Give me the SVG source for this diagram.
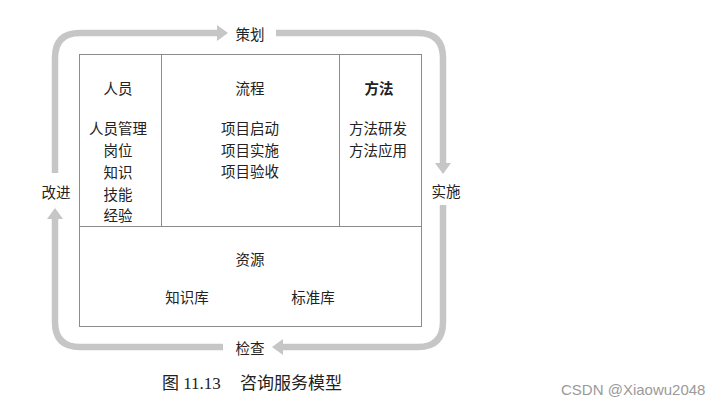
<svg xmlns="http://www.w3.org/2000/svg" width="725" height="405" viewBox="0 0 725 405">
<style>
.t{font-family:"Noto Sans CJK SC","Noto Sans",sans-serif;font-size:14.5px;fill:#222;text-anchor:middle;dominant-baseline:central}
.b{font-weight:bold}
.box{fill:none;stroke:#8c8c8c;stroke-width:1}
.band{fill:none;stroke:#c6c6c6;stroke-width:6.5}
.head{fill:#c6c6c6}
.cap{font-family:"Liberation Serif","Noto Sans CJK SC",serif;font-size:17px;fill:#222;dominant-baseline:central}
.wm{font-family:"Liberation Sans",Arial,sans-serif;font-size:15px;fill:#9a9a9a;dominant-baseline:central}
</style>
<rect width="725" height="405" fill="#fff"/>
<g id="connectors">
<path class="band" d="M55,173 V58 Q55,33 80,33 H218"/>
<polygon class="head" points="217,25 228,33 217,41"/>
<path class="band" d="M276,33 H418 Q443,33 443,58 V164"/>
<polygon class="head" points="435,163 443,174 451,163"/>
<path class="band" d="M443,205 V322 Q443,347 418,347 H282"/>
<polygon class="head" points="283,339 272,347 283,355"/>
<path class="band" d="M223,347 H80 Q55,347 55,322 V218"/>
<polygon class="head" points="47,219 55,208 63,219"/>
</g>
<g id="frame">
<rect class="box" x="79.5" y="54.5" width="342" height="272"/>
<line class="box" x1="161.5" y1="54.5" x2="161.5" y2="226.5"/>
<line class="box" x1="339.5" y1="54.5" x2="339.5" y2="226.5"/>
<line class="box" x1="79.5" y1="226.5" x2="421.5" y2="226.5"/>
</g>
<g id="people">
<text class="t" x="118" y="87">人员</text>
<text class="t" x="118" y="127">人员管理</text>
<text class="t" x="118" y="149">岗位</text>
<text class="t" x="118" y="171">知识</text>
<text class="t" x="118" y="193">技能</text>
<text class="t" x="118" y="214">经验</text>
</g>
<g id="process">
<text class="t" x="250" y="87">流程</text>
<text class="t" x="250" y="127">项目启动</text>
<text class="t" x="250" y="149">项目实施</text>
<text class="t" x="250" y="170">项目验收</text>
</g>
<g id="method">
<text class="t b" x="379" y="87">方法</text>
<text class="t" x="378" y="127">方法研发</text>
<text class="t" x="378" y="149">方法应用</text>
</g>
<g id="resources">
<text class="t" x="250" y="258">资源</text>
<text class="t" x="187" y="296">知识库</text>
<text class="t" x="313" y="296">标准库</text>
</g>
<g id="plan"><text class="t" x="250" y="33">策划</text></g>
<g id="implement"><text class="t" x="446" y="190">实施</text></g>
<g id="check"><text class="t" x="250" y="347">检查</text></g>
<g id="improve"><text class="t" x="56" y="191">改进</text></g>
<g id="caption">
<text class="cap" x="162" y="383">图 11.13</text>
<text class="cap" x="240" y="383">咨询服务模型</text>
<text class="wm" x="561" y="389">CSDN @Xiaowu2048</text>
</g>
</svg>
